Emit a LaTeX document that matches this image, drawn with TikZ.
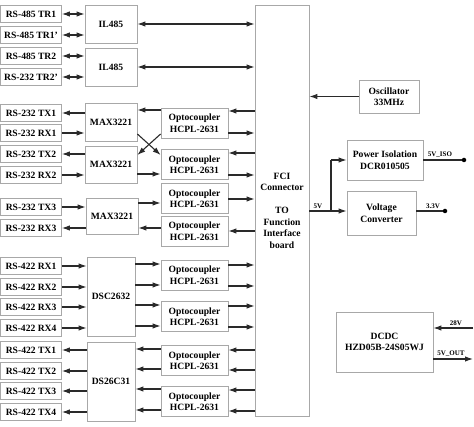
\documentclass[tikz,border=0pt]{standalone}
\usepackage{fontspec}
\setmainfont{Liberation Serif}
\usetikzlibrary{arrows.meta}
\definecolor{boxgray}{HTML}{A8A8A8}
\definecolor{linegray}{HTML}{2A2A2A}
\begin{document}
\begin{tikzpicture}[x=1pt,y=-1pt,
 bx/.style={draw=boxgray, line width=0.8pt, fill=white, inner sep=0pt, align=center, font=\bfseries\fontsize{9.6}{11.5}\selectfont},
 lbl/.style={bx, minimum width=61pt, minimum height=17pt},
 chip/.style={bx, minimum width=52pt, minimum height=38pt},
 opto/.style={bx, minimum width=67pt, minimum height=30pt},
 arr/.style={draw=linegray, line width=1.1pt, -{Latex[length=8pt,width=5.5pt]}},
 darr/.style={draw=linegray, line width=1.1pt, {Latex[length=8pt,width=5.5pt]}-{Latex[length=8pt,width=5.5pt]}},
 pln/.style={draw=linegray, line width=1.1pt},
 small/.style={font=\bfseries\fontsize{7}{8}\selectfont, inner sep=1pt},
 dotn/.style={circle, fill=black, inner sep=0pt, minimum size=4.5pt},
]
\useasboundingbox (0,0) rectangle (474,427);

% FCI connector
\node[bx, minimum width=54pt, minimum height=411pt] (fci) at (282,210.5) {};
\node[bx, draw=none, fill=none] (fcit) at (fci.center) {FCI\\Connector\\[11.5pt]TO\\Function\\Interface\\board};

% left labels
\node[lbl] (l1) at (31,14) {RS-485 TR1};
\node[lbl] (l2) at (31,35) {RS-485 TR1'};
\node[lbl] (l3) at (31,56) {RS-485 TR2};
\node[lbl] (l4) at (31,77) {RS-232 TR2'};
\node[lbl] (l5) at (31,113) {RS-232 TX1};
\node[lbl] (l6) at (31,133) {RS-232 RX1};
\node[lbl] (l7) at (31,154) {RS-232 TX2};
\node[lbl] (l8) at (31,175) {RS-232 RX2};
\node[lbl] (l9) at (31,207) {RS-232 TX3};
\node[lbl] (l10) at (31,228) {RS-232 RX3};
\node[lbl] (l11) at (31,266) {RS-422 RX1};
\node[lbl] (l12) at (31,287) {RS-422 RX2};
\node[lbl] (l13) at (31,307) {RS-422 RX3};
\node[lbl] (l14) at (31,328) {RS-422 RX4};
\node[lbl] (l15) at (31,350) {RS-422 TX1};
\node[lbl] (l16) at (31,371) {RS-422 TX2};
\node[lbl] (l17) at (31,391) {RS-422 TX3};
\node[lbl] (l18) at (31,412) {RS-422 TX4};

% chips
\node[chip] (il1) at (111,24) {IL485};
\node[chip] (il2) at (111,67) {IL485};
\node[chip] (max1) at (111,122) {MAX3221};
\node[chip, minimum height=37pt] (max2) at (111,164.5) {MAX3221};
\node[chip, minimum height=36pt] (max3) at (112,216) {MAX3221};
\node[chip, minimum width=48pt, minimum height=79pt] (dsc) at (111,296.5) {DSC2632};
\node[chip, minimum width=48pt, minimum height=79pt] (ds26) at (111,381.5) {DS26C31};

% optocouplers
\node[opto] (o1) at (194.5,123) {Optocoupler\\HCPL-2631};
\node[opto] (o2) at (194.5,164.5) {Optocoupler\\HCPL-2631};
\node[opto] (o3) at (194.5,198.5) {Optocoupler\\HCPL-2631};
\node[opto] (o4) at (194.5,231) {Optocoupler\\HCPL-2631};
\node[opto] (o5) at (194.5,275) {Optocoupler\\HCPL-2631};
\node[opto] (o6) at (194.5,316.5) {Optocoupler\\HCPL-2631};
\node[opto] (o7) at (194.5,360.5) {Optocoupler\\HCPL-2631};
\node[opto] (o8) at (194.5,401.5) {Optocoupler\\HCPL-2631};

% right blocks
\node[bx, minimum width=60pt, minimum height=33pt] (osc) at (389,96.5) {Oscillator\\33MHz};
\node[bx, minimum width=76pt, minimum height=40pt] (pi) at (385,160) {Power Isolation\\DCR010505};
\node[bx, minimum width=69pt, minimum height=44pt] (vc) at (381.5,213) {Voltage\\Converter};
\node[bx, minimum width=97pt, minimum height=60pt] (dcdc) at (384.5,342) {DCDC\\HZD05B-24S05WJ};

% RS-485 connections
\draw[darr] (l1.east) -- (il1.west |- l1.east);
\draw[darr] (l2.east) -- (il1.west |- l2.east);
\draw[darr] (l3.east) -- (il2.west |- l3.east);
\draw[darr] (l4.east) -- (il2.west |- l4.east);
\draw[darr] (il1.east) -- (il1.east -| fci.west);
\draw[darr] (il2.east) -- (il2.east -| fci.west);

% RS-232 connections
\draw[arr] (max1.west |- l5.east) -- (l5.east);
\draw[arr] (l6.east) -- (max1.west |- l6.east);
\draw[arr] (max2.west |- l7.east) -- (l7.east);
\draw[arr] (l8.east) -- (max2.west |- l8.east);
\draw[arr] (l9.east) -- (max3.west |- l9.east);
\draw[arr] (max3.west |- l10.east) -- (l10.east);

\draw[arr] (o1.west |- 0,110) -- (max1.east |- 0,110);
\draw[arr] (max1.east |- 0,134) -- (o2.west |- 0,155);
\draw[arr] (o1.west |- 0,134) -- (max2.east |- 0,155);
\draw[arr] (max2.east |- 0,174) -- (o2.west |- 0,174);
\draw[arr] (max3.east |- 0,203) -- (o3.west |- 0,203);
\draw[arr] (o4.west |- 0,228) -- (max3.east |- 0,228);

\draw[arr] (fci.west |- 0,111) -- (o1.east |- 0,111);
\draw[arr] (o1.east |- 0,133) -- (fci.west |- 0,133);
\draw[arr] (fci.west |- 0,153) -- (o2.east |- 0,153);
\draw[arr] (o2.east |- 0,175) -- (fci.west |- 0,175);
\draw[arr] (o3.east |- 0,199) -- (fci.west |- 0,199);
\draw[arr] (fci.west |- 0,231) -- (o4.east |- 0,231);

% RS-422 connections
\foreach \n in {11,12,13,14} \draw[arr] (l\n.east) -- (dsc.west |- l\n.east);
\foreach \n in {15,16,17,18} \draw[arr] (ds26.west |- l\n.east) -- (l\n.east);

\foreach \y in {264,285} {
  \draw[arr] (dsc.east |- 0,\y) -- (o5.west |- 0,\y);
  \draw[arr] (o5.east |- 0,\y+1) -- (fci.west |- 0,\y+1);
}
\foreach \y in {305,326} {
  \draw[arr] (dsc.east |- 0,\y) -- (o6.west |- 0,\y);
  \draw[arr] (o6.east |- 0,\y+1) -- (fci.west |- 0,\y+1);
}
\foreach \y in {349,369} {
  \draw[arr] (o7.west |- 0,\y) -- (ds26.east |- 0,\y);
  \draw[arr] (fci.west |- 0,\y+1) -- (o7.east |- 0,\y+1);
}
\foreach \y in {389,410} {
  \draw[arr] (o8.west |- 0,\y) -- (ds26.east |- 0,\y);
  \draw[arr] (fci.west |- 0,\y+1) -- (o8.east |- 0,\y+1);
}

% right side power / clock
\draw[arr] (osc.west) -- (osc.west -| fci.east);
\coordinate (br) at (331,211);
\draw[arr] (fci.east |- br) -- (vc.west |- br);
\draw[pln] (br) -- (br |- pi.west);
\draw[arr] (br |- pi.west) -- (pi.west);
\node[small, anchor=south] (t5v) at (318,210) {5V};

\node[dotn] (dISO) at (464,160) {};
\draw[pln] (pi.east) -- (dISO);
\node[small, anchor=south] (tiso) at (440,159) {5V\_ISO};

\node[dotn] (d33) at (445,211) {};
\draw[pln] (vc.east |- d33) -- (d33);
\node[small, anchor=south] (t33) at (433,210) {3.3V};

\coordinate (in28) at (473,328);
\draw[arr] (in28) -- (dcdc.east |- in28);
\node[small, anchor=south] (t28) at (456,327) {28V};
\coordinate (out5) at (473,359);
\draw[arr] (dcdc.east |- out5) -- (out5);
\node[small, anchor=south] (t5o) at (451,358) {5V\_OUT};
\end{tikzpicture}
\end{document}
